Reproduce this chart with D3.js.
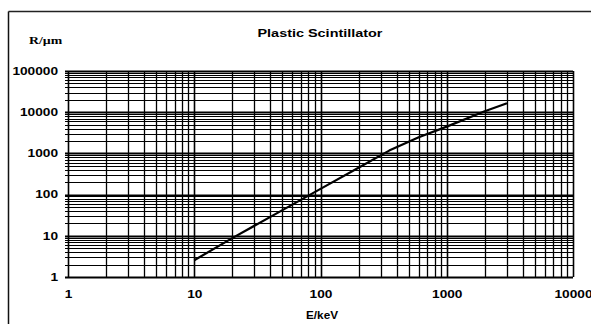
<!DOCTYPE html>
<html>
<head>
<meta charset="utf-8">
<script src="https://cdn.jsdelivr.net/npm/d3@7"></script>
<style>
  body { margin: 0; background: #fff; }
  svg { display: block; }
  text { font-family: "Liberation Sans", Arial, sans-serif; fill: #000; }
</style>
</head>
<body>
<svg id="stage" width="591" height="324"></svg>
<script>
// Range of electrons in plastic scintillator
const energies = [10, 20, 50, 100, 200, 350, 600, 1000, 2000, 3000];
const ranges = [2.55, 8.8, 42, 138, 450, 1170, 2470, 4470, 10500, 16500];

const xTicks = [1, 10, 100, 1000, 10000];
const yTicks = [1, 10, 100, 1000, 10000, 100000];

const chartTitle = "Plastic Scintillator";
const xTitle = "E/keV";
const yTitle = "R/\u00b5m";

const svg = d3.select("#stage");
const plot = { left: 68, right: 573, top: 71, bottom: 277 };

const x = d3.scaleLog().domain([1, 10000]).range([plot.left, plot.right]);
const y = d3.scaleLog().domain([1, 100000]).range([plot.bottom, plot.top]);

// the scanned glyphs are wide and flat, so stretch them
const stretch = (sel, perChar) =>
  sel
    .attr("textLength", function () { return this.textContent.length * perChar; })
    .attr("lengthAdjust", "spacingAndGlyphs");

// outer frame (only top + left edges survive in the scan)
svg.append("line")
  .attr("x1", 8.5).attr("x2", 591).attr("y1", 11.5).attr("y2", 11.5)
  .attr("stroke", "#222").attr("stroke-width", 1.3);
svg.append("line")
  .attr("x1", 8.5).attr("x2", 8.5).attr("y1", 11.5).attr("y2", 324)
  .attr("stroke", "#111").attr("stroke-width", 1.5);

// minor + major gridlines from the log scales
const xGridVals = x.ticks();
const yGridVals = y.ticks();

const grid = svg.append("g");
grid.selectAll("line.v")
  .data(xGridVals)
  .enter()
  .append("line")
  .attr("class", "v")
  .attr("x1", (d) => Math.round(x(d)) + 0.5)
  .attr("x2", (d) => Math.round(x(d)) + 0.5)
  .attr("y1", plot.top)
  .attr("y2", plot.bottom)
  .attr("stroke", "#000")
  .attr("stroke-width", (d) => (xTicks.includes(d) ? 1.6 : 1.3));

grid.selectAll("line.h")
  .data(yGridVals)
  .enter()
  .append("line")
  .attr("class", "h")
  .attr("x1", plot.left - 3)
  .attr("x2", plot.right)
  .attr("y1", (d) => Math.round(y(d)) + 0.5)
  .attr("y2", (d) => Math.round(y(d)) + 0.5)
  .attr("stroke", "#000")
  .attr("stroke-width", (d) => (yTicks.includes(d) ? 2 : 1.1));

// axes labels
const yAxis = d3.axisLeft(y).tickValues(yTicks).tickFormat(d3.format("d")).tickSize(0).tickPadding(10);
const yG = svg.append("g").attr("transform", `translate(${plot.left},0)`).call(yAxis);
yG.select(".domain").remove();
yG.selectAll("text").style("font-size", "10px").style("font-weight", "bold").call(stretch, 7.6);

const xAxis = d3.axisBottom(x).tickValues(xTicks).tickFormat(d3.format("d")).tickSize(0).tickPadding(14);
const xG = svg.append("g").attr("transform", `translate(0,${plot.bottom})`).call(xAxis);
xG.select(".domain").remove();
xG.selectAll("text").style("font-size", "10px").style("font-weight", "bold").call(stretch, 7.6);

// curve (straight segments between points, like the original)
const line = d3.line()
  .x((d, i) => x(energies[i]))
  .y((d) => y(d));

svg.append("path")
  .datum(ranges)
  .attr("d", line)
  .attr("fill", "none")
  .attr("stroke", "#000")
  .attr("stroke-width", 2.2)
  .attr("stroke-linejoin", "round");

// titles
svg.append("text")
  .attr("x", 320).attr("y", 37)
  .attr("text-anchor", "middle")
  .style("font-size", "11px").style("font-weight", "bold")
  .text(chartTitle)
  .call(stretch, 6.25);

svg.append("text")
  .attr("x", 322).attr("y", 319)
  .attr("text-anchor", "middle")
  .style("font-size", "10px").style("font-weight", "bold")
  .text(xTitle)
  .call(stretch, 6.4);

svg.append("text")
  .attr("x", 29).attr("y", 44)
  .style("font-family", "'Liberation Serif', serif")
  .style("font-size", "10px").style("font-weight", "bold")
  .text(yTitle)
  .call(stretch, 8.3);
</script>
</body>
</html>
